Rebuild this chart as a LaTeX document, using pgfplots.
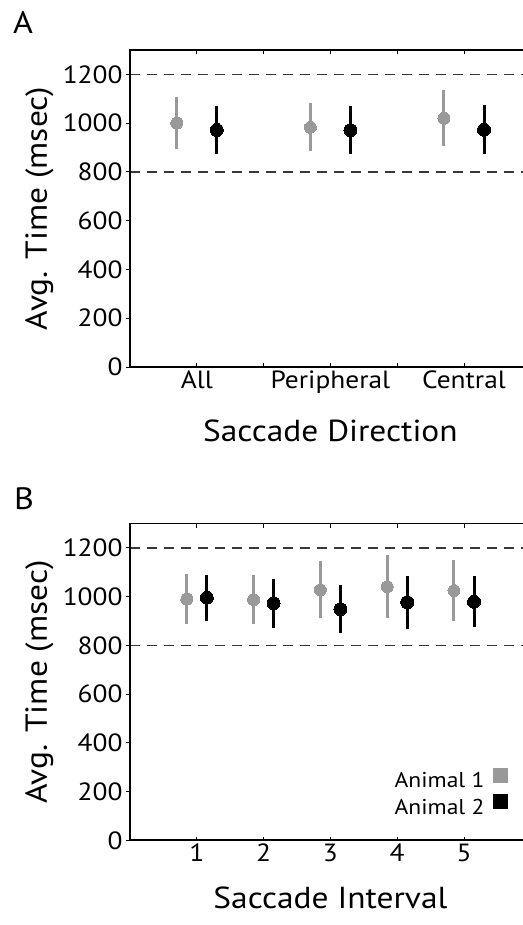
\documentclass[border=0pt]{standalone}
\usepackage{fontspec}
\setmainfont{PT Sans}[FakeStretch=1.1]
\usepackage{pgfplots}
\pgfplotsset{compat=1.18}
\definecolor{animalone}{RGB}{153,153,153}
\definecolor{animaltwo}{RGB}{0,0,0}
\definecolor{dashcol}{RGB}{55,55,55}
\pgfplotsset{
  myaxis/.style={
    scale only axis, width=400.8bp, height=317bp,
    xmin=0, xmax=6, ymin=0, ymax=1300,
    ytick={0,200,...,1200}, xtick={1,...,5},
    xtick pos=both, ytick pos=left,
    xtick align=inside, ytick align=outside,
    major tick length=4bp,
    tick style={line width=1bp, black},
    axis line style={line width=1.3bp},
    /pgf/number format/assume math mode=true,
    /pgf/number format/1000 sep={},
    ticklabel style={font=\fontsize{25}{30}\selectfont},
    label style={font=\fontsize{30.5}{36}\selectfont},
    ylabel={Avg. Time (msec)},
    ylabel style={at={(axis description cs:0,0.5)}, anchor=base, yshift=83bp},
    clip=true,
  },
  refline/.style={dashcol, line width=1.6bp, dash pattern=on 10bp off 7bp, forget plot},
  a1/.style={animalone, line width=0bp, mark=*, mark size=6bp, mark options={fill=animalone, draw=animalone, line width=0bp},
    only marks, forget plot,
    error bars/.cd, y dir=both, y explicit, error mark=none,
    error bar style={line width=3bp, animalone}},
  a2/.style={black, mark=*, mark size=6.5bp, mark options={fill=black, draw=black, line width=0bp},
    only marks, forget plot,
    error bars/.cd, y dir=both, y explicit, error mark=none,
    error bar style={line width=3bp, black}},
}
\pgfplotstableread{
x y e
0.70 1000 107
2.70 983 99
4.70 1020 115
}\Aone
\pgfplotstableread{
x y e
1.30 972 100
3.30 971 98
5.30 973 101
}\Atwo
\pgfplotstableread{
x y e
0.85 990 103
1.85 988 101
2.85 1028 117
3.85 1041 130
4.85 1025 126
}\Bone
\pgfplotstableread{
x y e
1.15 996 94
2.15 973 101
3.15 949 99
4.15 977 109
5.15 979 105
}\Btwo
\begin{document}
\begin{tikzpicture}
\useasboundingbox (0,0) rectangle (523bp,-925bp);
\clip (0,0) rectangle (523bp,-925bp);
\node[anchor=base west, font=\fontsize{31}{36}\selectfont, inner sep=0pt] at (13bp,-33bp) {A};
\node[anchor=base west, font=\fontsize{31}{36}\selectfont, inner sep=0pt] at (14bp,-509bp) {B};
% Panel A
\begin{axis}[myaxis, at={(130bp,-367bp)}, anchor=south west,
  xticklabels={All,,Peripheral,,Central},
  xlabel={Saccade Direction},
  xlabel style={at={(axis description cs:0.5,0)}, anchor=base, yshift=-74bp},
]
\addplot[refline] coordinates {(0,800) (6,800)};
\addplot[refline] coordinates {(0,1200) (6,1200)};
\addplot[a1] table[x=x, y=y, y error=e] {\Aone};
\addplot[a2] table[x=x, y=y, y error=e] {\Atwo};
\draw[line width=2.3bp, black] (rel axis cs:0,1) -- (rel axis cs:0,0) -- (rel axis cs:1,0);
\end{axis}
% Panel B
\begin{axis}[myaxis, at={(130bp,-840.5bp)}, anchor=south west,
  xticklabels={1,2,3,4,5},
  xlabel={Saccade Interval},
  xlabel style={at={(axis description cs:0.5,0)}, anchor=base, yshift=-68bp},
  legend plot pos=right,
  legend cell align=right,
  legend style={at={(axis cs:5.66,92)}, anchor=south east, draw=none, fill=none,
    font=\fontsize{21.5}{25}\selectfont, row sep=3bp, inner sep=0pt,
    nodes={inner sep=2bp}},
]
\addplot[refline] coordinates {(0,800) (6,800)};
\addplot[refline] coordinates {(0,1200) (6,1200)};
\addplot[a1] table[x=x, y=y, y error=e] {\Bone};
\addplot[a2] table[x=x, y=y, y error=e] {\Btwo};
\addlegendimage{legend image code/.code={\path (0bp,0bp); \fill[animalone] (7bp,-1bp) rectangle (21bp,13bp);}}
\addlegendentry{Animal 1}
\addlegendimage{legend image code/.code={\path (0bp,0bp); \fill[black] (7bp,-1bp) rectangle (21bp,13bp);}}
\addlegendentry{Animal 2}
\draw[line width=2.3bp, black] (rel axis cs:0,1) -- (rel axis cs:0,0) -- (rel axis cs:1,0);
\end{axis}
\end{tikzpicture}
\end{document}
